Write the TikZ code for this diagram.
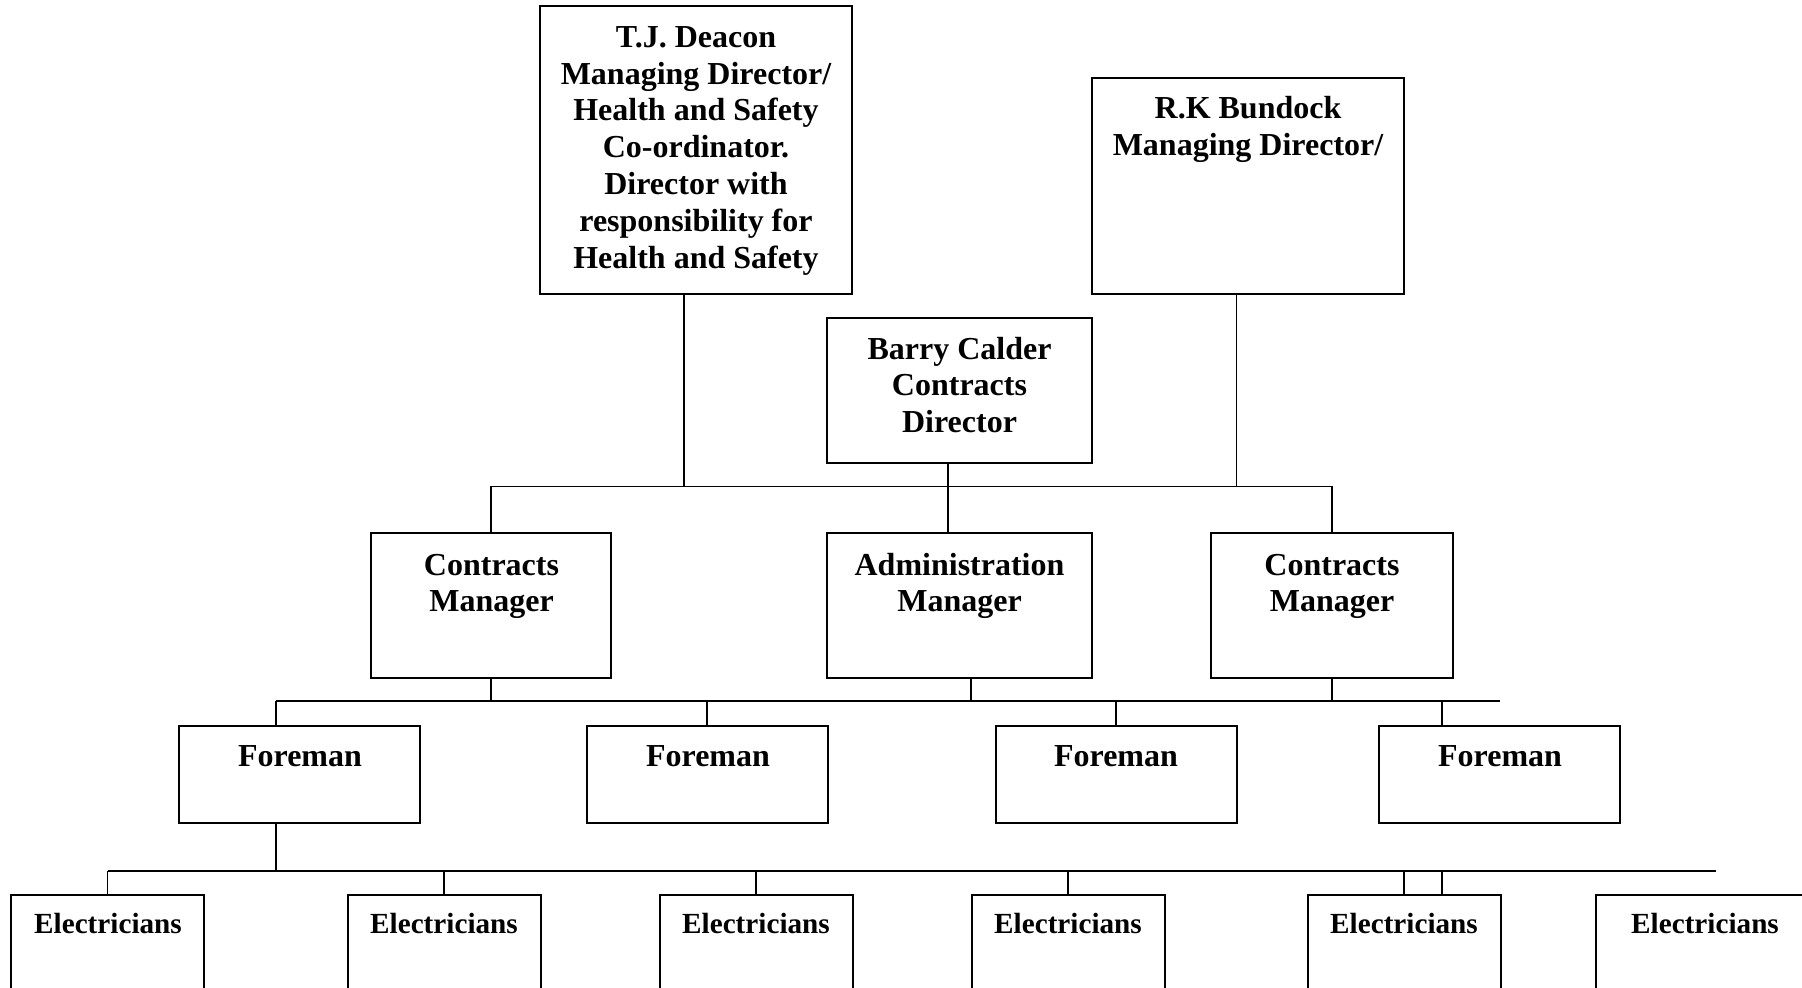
\documentclass[tikz,border=0pt]{standalone}
\usepackage{fontspec}
\setmainfont{Liberation Serif}
\begin{document}
\begin{tikzpicture}[x=0.5pt,y=-0.5pt,
  box/.style={draw,line width=1pt,rectangle,inner sep=0pt},
  conn/.style={line width=0.75pt},
  lbl/.style={anchor=north,inner sep=0pt,align=center,font=\bfseries\fontsize{16}{18.4}\selectfont},
  elbl/.style={anchor=north,inner sep=0pt,align=center,font=\bfseries\fontsize{14.6}{17}\selectfont}]
\clip (0,0) rectangle (1802,987);
% boxes
\node[box,minimum width=156pt,minimum height=144pt] (tj) at (696,150) {};
\node[box,minimum width=156pt,minimum height=108pt] (rk) at (1248,186) {};
\node[box,minimum width=132.5pt,minimum height=72.5pt] (barry) at (959.5,390.5) {};
\node[box,minimum width=120pt,minimum height=72.5pt] (cml) at (491,605.5) {};
\node[box,minimum width=132.5pt,minimum height=72.5pt] (admin) at (959.5,605.5) {};
\node[box,minimum width=121pt,minimum height=72.5pt] (cmr) at (1332,605.5) {};
\node[box,minimum width=120.5pt,minimum height=48.5pt] (f1) at (299.5,774.5) {};
\node[box,minimum width=120.5pt,minimum height=48.5pt] (f2) at (707,774.5) {};
\node[box,minimum width=120.5pt,minimum height=48.5pt] (f3) at (1116,774.5) {};
\node[box,minimum width=120.5pt,minimum height=48.5pt] (f4) at (1499.5,774.5) {};
\node[box,minimum width=96.5pt,minimum height=102.5pt] (e1) at (107.5,997.5) {};
\node[box,minimum width=96.5pt,minimum height=102.5pt] (e2) at (444,997.5) {};
\node[box,minimum width=96.5pt,minimum height=102.5pt] (e3) at (756,997.5) {};
\node[box,minimum width=96.5pt,minimum height=102.5pt] (e4) at (1068,997.5) {};
\node[box,minimum width=96.5pt,minimum height=102.5pt] (e5) at (1404,997.5) {};
\node[box,minimum width=109pt,minimum height=102.5pt] (e6) at (1705,997.5) {};
% texts
\node[lbl] (tjt) at (696,26) {T.J. Deacon\\Managing Director/\\Health and Safety\\Co-ordinator.\\Director with\\responsibility for\\Health and Safety};
\node[lbl] (rkt) at (1248,96) {R.K Bundock\\Managing Director/};
\node[lbl] (barryt) at (959.5,336.5) {Barry Calder\\Contracts\\Director};
\node[lbl] (cmlt) at (491.5,553.5) {Contracts\\Manager};
\node[lbl] (admint) at (959.5,552.5) {Administration\\Manager};
\node[lbl] (cmrt) at (1332,553.5) {Contracts\\Manager};
\node[lbl] (f1t) at (300,745.5) {Foreman};
\node[lbl] (f2t) at (708,745.5) {Foreman};
\node[lbl] (f3t) at (1116,745.5) {Foreman};
\node[lbl] (f4t) at (1500,745.5) {Foreman};
\node[elbl] (e1t) at (108,913) {Electricians};
\node[elbl] (e2t) at (444,913) {Electricians};
\node[elbl] (e3t) at (756,913) {Electricians};
\node[elbl] (e4t) at (1068,913) {Electricians};
\node[elbl] (e5t) at (1404,913) {Electricians};
\node[elbl] (e6t) at (1705,913) {Electricians};
% connector coordinates
\coordinate (bL) at (492,486.5);
\coordinate (k1) at (684,486.5);
\coordinate (k2) at (1236.5,486.5);
\coordinate (k3) at (948,486.5);
\coordinate (m1) at (276,701);
\coordinate (m2) at (1500,701);
\coordinate (k4) at (971,701);
\coordinate (k5) at (1442,701);
\coordinate (n1) at (108,871);
\coordinate (n2) at (1716,871);
% level 1
\draw[conn] (tj.south -| k1) -- (k1);
\draw[conn] (rk.south -| k2) -- (k2);
\draw[conn] (barry.south -| k3) -- (admin.north -| k3);
\draw[conn] (cml.north) -- (cml.north |- bL) -- (cmr.north |- bL) -- (cmr.north);
% level 2
\draw[conn] (m1) -- (m2);
\draw[conn] (cml.south) -- (cml.south |- m1);
\draw[conn] (admin.south -| k4) -- (k4);
\draw[conn] (cmr.south) -- (cmr.south |- m1);
\draw[conn] (f1.north -| m1) -- (m1);
\draw[conn] (f2.north) -- (f2.north |- m1);
\draw[conn] (f3.north) -- (f3.north |- m1);
\draw[conn] (f4.north -| k5) -- (k5);
% level 3
\draw[conn] (n1) -- (n2);
\draw[conn] (f1.south -| m1) -- (m1 |- n1);
\draw[conn] (e1.north) -- (e1.north |- n1);
\draw[conn] (e2.north) -- (e2.north |- n1);
\draw[conn] (e3.north) -- (e3.north |- n1);
\draw[conn] (e4.north) -- (e4.north |- n1);
\draw[conn] (e5.north) -- (e5.north |- n1);
\draw[conn] (e5.north -| k5) -- (k5 |- n1);
\end{tikzpicture}
\end{document}
